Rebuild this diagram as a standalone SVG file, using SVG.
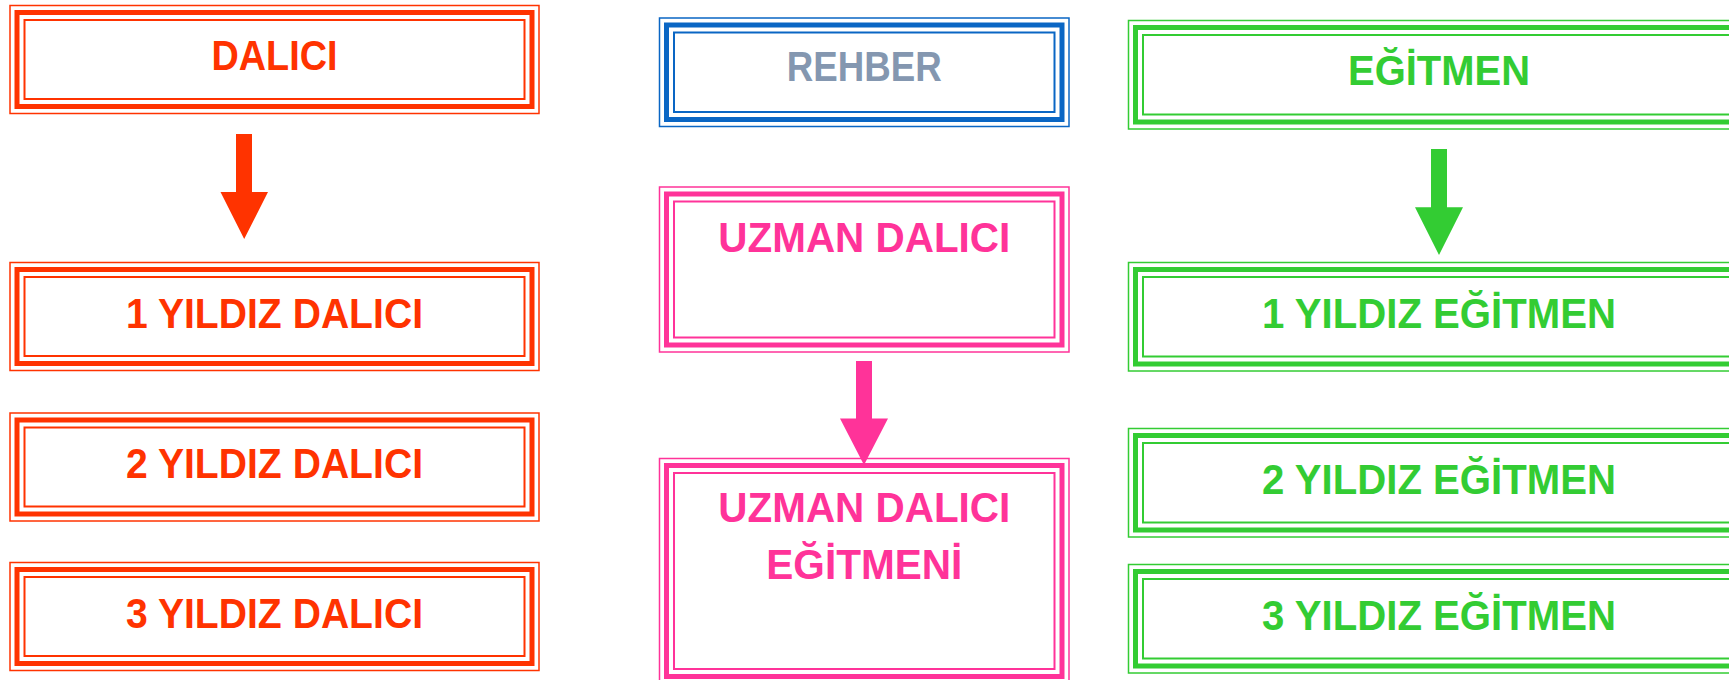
<svg xmlns="http://www.w3.org/2000/svg" width="1729" height="680" viewBox="0 0 1729 680">
  <style>
    rect.o { fill: none; stroke-width: 1.5; }
    rect.t { fill: none; stroke-width: 5; }
    rect.i { fill: none; stroke-width: 2; }
    text { font-family: "Liberation Sans", Arial, sans-serif; font-weight: bold; font-size: 43px; text-anchor: middle; }
    .red rect { stroke: #FF3300; }
    .red text { fill: #FF3300; }
    .blue rect { stroke: #0A66C4; }
    .blue text { fill: #8497B0; }
    .pink rect { stroke: #FF3399; }
    .pink text { fill: #FF3399; }
    .green rect { stroke: #33CC33; }
    .green text { fill: #33CC33; }
    .arrow-red { fill: #FF3300; }
    .arrow-pink { fill: #FF3399; }
    .arrow-green { fill: #33CC33; }
  </style>
  <rect x="0" y="0" width="1729" height="680" fill="#FFFFFF"/>

  <!-- Left column -->
  <g id="dalici" class="red">
    <rect class="o" x="10" y="5.5" width="529" height="108"/>
    <rect class="t" x="17" y="12.5" width="515" height="94"/>
    <rect class="i" x="24.5" y="20" width="500" height="79"/>
    <text x="274.5" y="70" textLength="126" lengthAdjust="spacingAndGlyphs">DALICI</text>
  </g>
  <g id="yildiz1-dalici" class="red">
    <rect class="o" x="10" y="262.5" width="529" height="108"/>
    <rect class="t" x="17" y="269.5" width="515" height="94"/>
    <rect class="i" x="24.5" y="277" width="500" height="79"/>
    <text x="274.5" y="327.5" textLength="297" lengthAdjust="spacingAndGlyphs">1 YILDIZ DALICI</text>
  </g>
  <g id="yildiz2-dalici" class="red">
    <rect class="o" x="10" y="413" width="529" height="108"/>
    <rect class="t" x="17" y="420" width="515" height="94"/>
    <rect class="i" x="24.5" y="427.5" width="500" height="79"/>
    <text x="274.5" y="478" textLength="297" lengthAdjust="spacingAndGlyphs">2 YILDIZ DALICI</text>
  </g>
  <g id="yildiz3-dalici" class="red">
    <rect class="o" x="10" y="562.5" width="529" height="108"/>
    <rect class="t" x="17" y="569.5" width="515" height="94"/>
    <rect class="i" x="24.5" y="577" width="500" height="79"/>
    <text x="274.5" y="628" textLength="297" lengthAdjust="spacingAndGlyphs">3 YILDIZ DALICI</text>
  </g>

  <!-- Middle column -->
  <g id="rehber" class="blue">
    <rect class="o" x="659.5" y="18" width="409.5" height="108.5"/>
    <rect class="t" x="666.5" y="25" width="395.5" height="94.5"/>
    <rect class="i" x="674" y="32.5" width="380.5" height="79.5"/>
    <text x="864.3" y="81" textLength="155" lengthAdjust="spacingAndGlyphs">REHBER</text>
  </g>
  <g id="uzman-dalici" class="pink">
    <rect class="o" x="659.5" y="187" width="409.5" height="165"/>
    <rect class="t" x="666.5" y="194" width="395.5" height="151"/>
    <rect class="i" x="674" y="201.5" width="380.5" height="136"/>
    <text x="864.3" y="251.5" textLength="292" lengthAdjust="spacingAndGlyphs">UZMAN DALICI</text>
  </g>
  <g id="uzman-dalici-egitmeni" class="pink">
    <rect class="o" x="659.5" y="458.5" width="409.5" height="225"/>
    <rect class="t" x="666.5" y="465.5" width="395.5" height="211"/>
    <rect class="i" x="674" y="473" width="380.5" height="196"/>
    <text x="864.3" y="521.5" textLength="292" lengthAdjust="spacingAndGlyphs">UZMAN DALICI</text>
    <text x="864.3" y="579" textLength="196" lengthAdjust="spacingAndGlyphs">EĞİTMENİ</text>
  </g>

  <!-- Right column -->
  <g id="egitmen" class="green">
    <rect class="o" x="1128.5" y="20.5" width="621" height="108.5"/>
    <rect class="t" x="1135.5" y="27.5" width="607" height="94.5"/>
    <rect class="i" x="1143" y="35" width="592" height="79.5"/>
    <text x="1439" y="85" textLength="182" lengthAdjust="spacingAndGlyphs">EĞİTMEN</text>
  </g>
  <g id="yildiz1-egitmen" class="green">
    <rect class="o" x="1128.5" y="262.5" width="621" height="108.5"/>
    <rect class="t" x="1135.5" y="269.5" width="607" height="94.5"/>
    <rect class="i" x="1143" y="277" width="592" height="79.5"/>
    <text x="1439" y="327.5" textLength="354" lengthAdjust="spacingAndGlyphs">1 YILDIZ EĞİTMEN</text>
  </g>
  <g id="yildiz2-egitmen" class="green">
    <rect class="o" x="1128.5" y="428.5" width="621" height="108.5"/>
    <rect class="t" x="1135.5" y="435.5" width="607" height="94.5"/>
    <rect class="i" x="1143" y="443" width="592" height="79.5"/>
    <text x="1439" y="493.5" textLength="354" lengthAdjust="spacingAndGlyphs">2 YILDIZ EĞİTMEN</text>
  </g>
  <g id="yildiz3-egitmen" class="green">
    <rect class="o" x="1128.5" y="564.5" width="621" height="108.5"/>
    <rect class="t" x="1135.5" y="571.5" width="607" height="94.5"/>
    <rect class="i" x="1143" y="579" width="592" height="79.5"/>
    <text x="1439" y="629.5" textLength="354" lengthAdjust="spacingAndGlyphs">3 YILDIZ EĞİTMEN</text>
  </g>

  <!-- Connectors -->
  <g id="connectors">
    <polygon class="arrow-red" points="236,134 252,134 252,192 268,192 244.2,239 220.5,192 236,192"/>
    <polygon class="arrow-pink" points="856,361 872,361 872,418.5 888,418.5 864,465 840,418.5 856,418.5"/>
    <polygon class="arrow-green" points="1431,149 1447,149 1447,207.3 1463,207.3 1439,255 1415,207.3 1431,207.3"/>
  </g>
</svg>
